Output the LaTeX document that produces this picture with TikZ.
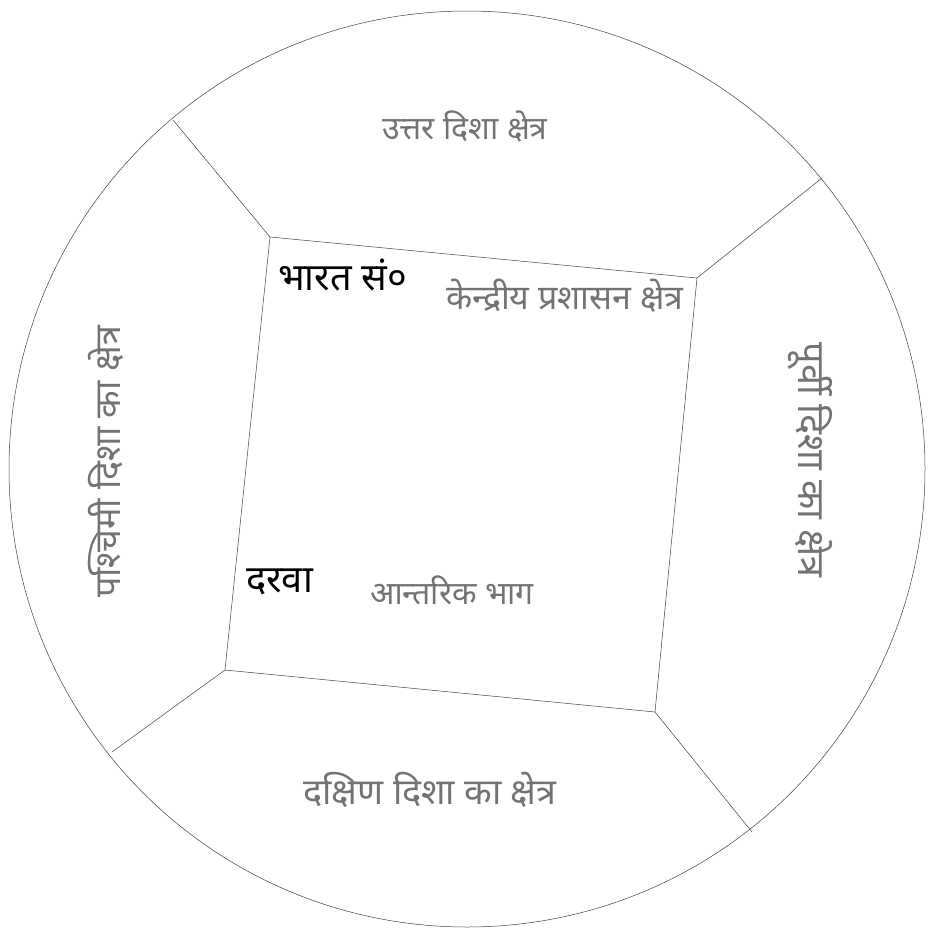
\documentclass[tikz,border=0pt]{standalone}
\usepackage{fontspec}
\newfontfamily\deva[Script=Devanagari]{Noto Sans}
\begin{document}
\begin{tikzpicture}[x=1pt,y=-1pt,
  edge/.style={draw=black!75,line width=0.5pt},
  strong/.style={text=black,font=\deva\fontsize{38}{44}\selectfont,inner sep=0pt},
  faint/.style={text=black!55,inner sep=0pt},
  fs/.style={font=\deva\fontsize{#1}{#1}\selectfont}]
\useasboundingbox (0,0) rectangle (929,937);
% outer circle
\node[circle,draw=black!75,line width=0.5pt,minimum size=916pt,inner sep=0pt] (ring) at (467,469) {};
% square corners
\coordinate (TL) at (270,237);
\coordinate (TR) at (697,278);
\coordinate (BR) at (655,712);
\coordinate (BL) at (225,670);
% points on circle
\coordinate (oTL) at (173,120);
\coordinate (oTR) at (822,178);
\coordinate (oBR) at (752,832);
\coordinate (oBL) at (112,752);
\draw[edge] (TL) -- (TR) -- (BR) -- (BL) -- cycle;
\draw[edge] (TL) -- (oTL);
\draw[edge] (TR) -- (oTR);
\draw[edge] (BR) -- (oBR);
\draw[edge] (BL) -- (oBL);
% labels
\node[faint,fs=32] (top) at (465,127) {उत्तर दिशा क्षेत्र};
\node[strong,anchor=west] (c1) at (278,275) {भारत सं०};
\node[faint,fs=34] (c2) at (565,296) {केन्द्रीय प्रशासन क्षेत्र};
\node[strong,anchor=west] (c3) at (246,582) {दरवा};
\node[faint,fs=32] (c4) at (452,590) {आन्तरिक भाग};
\node[faint,fs=36] (bot) at (430,790) {दक्षिण दिशा का क्षेत्र};
\node[faint,fs=36,rotate=90] (left) at (106,462) {पश्चिमी दिशा का क्षेत्र};
\node[faint,fs=38,rotate=-90] (right) at (810,460) {पूर्वी दिशा का क्षेत्र};
\end{tikzpicture}
\end{document}
